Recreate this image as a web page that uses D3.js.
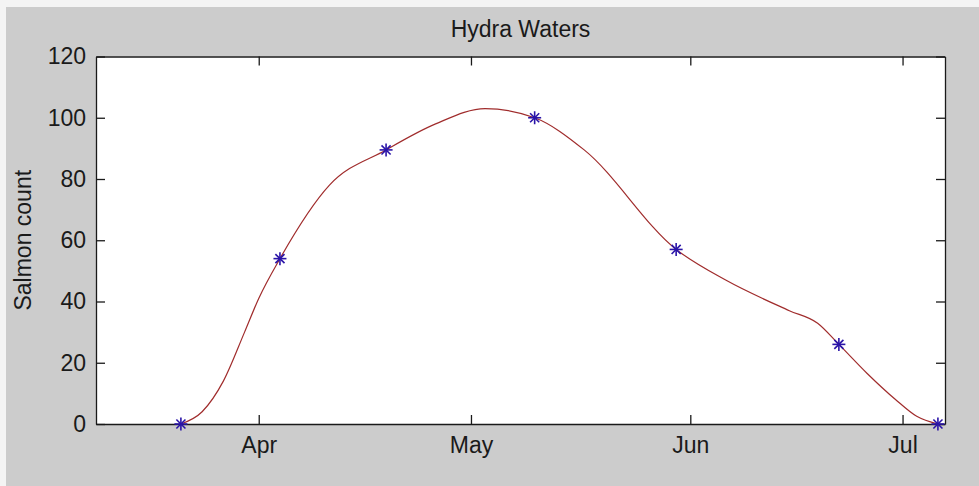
<!DOCTYPE html>
<html>
<head>
<meta charset="utf-8">
<script src="https://cdn.jsdelivr.net/npm/d3@7"></script>
<style>
  html, body { margin: 0; padding: 0; background: #f4f4f4; }
  svg { display: block; }
  text { font-family: "Liberation Sans", Arial, sans-serif; fill: #1a1a1a; }
</style>
</head>
<body>
<svg id="chart" width="979" height="486"></svg>
<script>
// Survey dates and salmon counts (marked points)
const surveyDates = ["2013-03-21", "2013-04-04", "2013-04-19", "2013-05-10", "2013-05-30", "2013-06-22", "2013-07-06"];
const salmonCounts = [0, 54, 89.5, 100, 57, 26, 0];

// Smoothed count curve drawn through the season
const curveDates = ["2013-03-21", "2013-03-24", "2013-03-27", "2013-03-30", "2013-04-01", "2013-04-04",
  "2013-04-11", "2013-04-19", "2013-04-26", "2013-05-03", "2013-05-10", "2013-05-17", "2013-05-30",
  "2013-06-06", "2013-06-15", "2013-06-19", "2013-06-22", "2013-06-26", "2013-06-30", "2013-07-03", "2013-07-06"];
const curveCounts = [0, 4, 14, 30, 41, 54,
  78, 89.5, 98, 103, 100, 89.5, 57,
  47, 37, 32.9, 26, 16.5, 8, 2.5, 0];

const yTicks = [0, 20, 40, 60, 80, 100, 120];
const xRange = ["2013-03-09", "2013-07-07"];
const title = "Hydra Waters";
const yLabel = "Salmon count";

const parse = d3.utcParse("%Y-%m-%d");
const points = surveyDates.map((d, i) => ({ date: parse(d), value: salmonCounts[i] }));
const smooth = curveDates.map((d, i) => ({ date: parse(d), value: curveCounts[i] }));

const svg = d3.select("#chart");
const W = 979, H = 486;
const plot = { left: 96, right: 945, top: 56.5, bottom: 424 };

// figure background and axes box
svg.append("rect").attr("x", 6).attr("y", 7).attr("width", W - 6).attr("height", H - 7).attr("fill", "#cccccc");
svg.append("rect").attr("x", plot.left).attr("y", plot.top)
  .attr("width", plot.right - plot.left).attr("height", plot.bottom - plot.top).attr("fill", "#ffffff");

const x = d3.scaleUtc().domain(xRange.map(parse)).range([plot.left, plot.right]);
const y = d3.scaleLinear().domain([0, 120]).range([plot.bottom, plot.top]);

const fontSize = 23;
const monthTicks = d3.utcMonth.every(1).range(x.domain()[0], x.domain()[1]);

// axes: labelled left/bottom, mirrored ticks top/right, ticks pointing inward
const axisStyle = g => {
  g.selectAll(".domain").attr("stroke", "#1a1a1a").attr("stroke-width", 1.3);
  g.selectAll(".tick line").attr("stroke", "#1a1a1a").attr("stroke-width", 1.3);
  g.selectAll("text").attr("font-size", fontSize).attr("fill", "#1a1a1a");
};

svg.append("g").attr("transform", `translate(0,${plot.bottom})`)
  .call(d3.axisBottom(x).tickValues(monthTicks).tickFormat(d3.utcFormat("%b"))
    .tickSizeInner(-9).tickSizeOuter(0).tickPadding(13))
  .call(axisStyle);

svg.append("g").attr("transform", `translate(0,${plot.top})`)
  .call(d3.axisTop(x).tickValues(monthTicks).tickFormat("")
    .tickSizeInner(-9).tickSizeOuter(0))
  .call(axisStyle);

svg.append("g").attr("transform", `translate(${plot.left},0)`)
  .call(d3.axisLeft(y).tickValues(yTicks).tickFormat(d3.format("d"))
    .tickSizeInner(-9).tickSizeOuter(0).tickPadding(10))
  .call(axisStyle);

svg.append("g").attr("transform", `translate(${plot.right},0)`)
  .call(d3.axisRight(y).tickValues(yTicks).tickFormat("")
    .tickSizeInner(-9).tickSizeOuter(0))
  .call(axisStyle);

// title and y label
svg.append("text").attr("x", (plot.left + plot.right) / 2).attr("y", 36.5)
  .attr("text-anchor", "middle").attr("font-size", fontSize).text(title);

svg.append("text")
  .attr("transform", `translate(31,${(plot.top + plot.bottom) / 2}) rotate(-90)`)
  .attr("text-anchor", "middle").attr("font-size", fontSize).text(yLabel);

// smoothed count curve
const line = d3.line().x(d => x(d.date)).y(d => y(d.value)).curve(d3.curveMonotoneX);
svg.append("path").datum(smooth).attr("d", line)
  .attr("fill", "none").attr("stroke", "#a02c2c").attr("stroke-width", 1.2);

// asterisk markers at survey points
const r = 6.5;
const spokes = [[-r, 0, r, 0], [0, -r, 0, r], [-r * 0.7, -r * 0.7, r * 0.7, r * 0.7], [-r * 0.7, r * 0.7, r * 0.7, -r * 0.7]];
const marks = svg.append("g").selectAll("g").data(points).join("g")
  .attr("transform", d => `translate(${x(d.date)},${y(d.value)})`);
marks.selectAll("line").data(spokes).join("line")
  .attr("x1", s => s[0]).attr("y1", s => s[1]).attr("x2", s => s[2]).attr("y2", s => s[3])
  .attr("stroke", "#2a14a8").attr("stroke-width", 1.6);
</script>
</body>
</html>
